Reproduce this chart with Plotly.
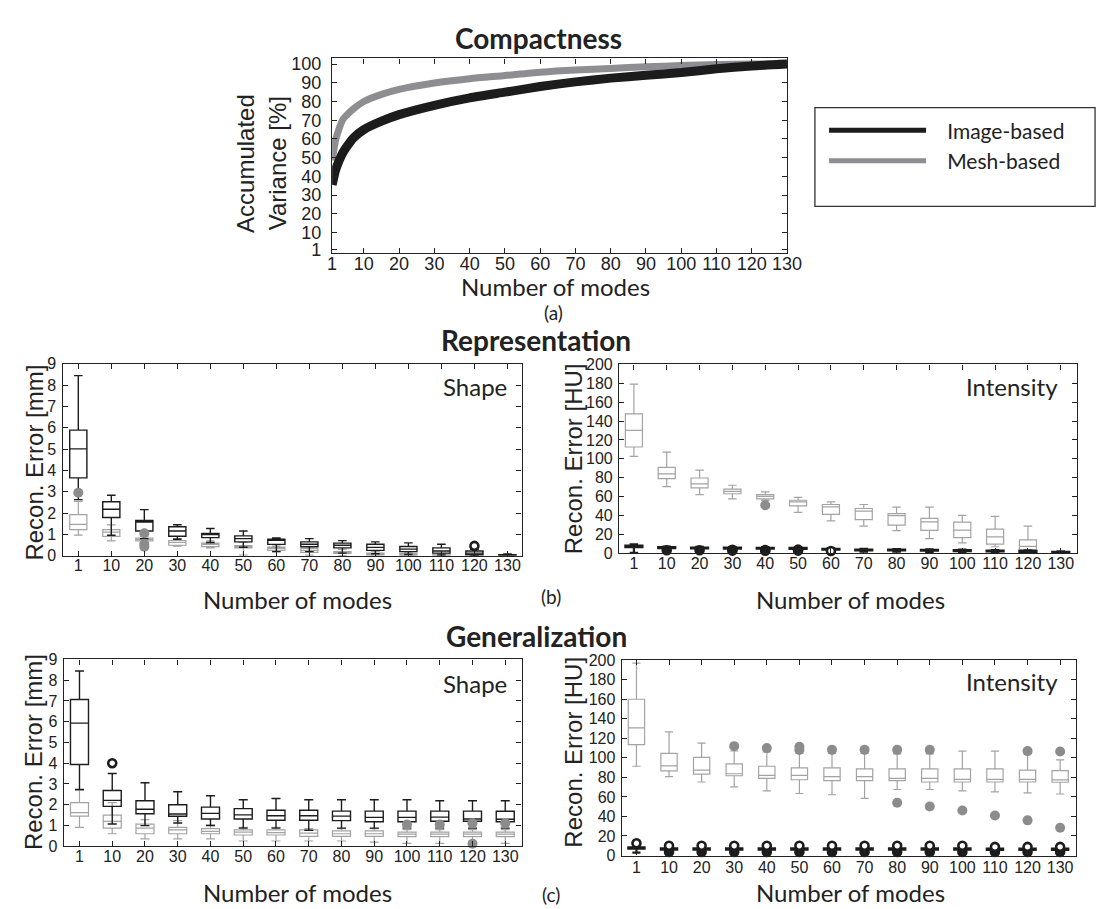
import plotly.graph_objects as go

# ---------------- data ----------------
modes_curve = [1, 2, 3, 4, 5, 7, 10, 15, 20, 30, 40, 50, 60, 70, 80, 90, 100, 110, 120, 130]
image_var = [35.5, 43.5, 48.5, 52.5, 55.5, 60.5, 65, 69.5, 73, 78, 82, 85, 88, 90.5, 92.5, 94, 95.5, 97.5, 99, 100]
mesh_var = [48.5, 59.5, 65.6, 70.3, 72.5, 76, 80, 83.8, 86.5, 89.9, 92.2, 93.9, 95.7, 96.9, 97.7, 98.6, 99.2, 99.8, 100, 100]
series_names = ["Image-based", "Mesh-based"]

categories = ["1", "10", "20", "30", "40", "50", "60", "70", "80", "90", "100", "110", "120", "130"]
top_ticks = [1, 10, 20, 30, 40, 50, 60, 70, 80, 90, 100, 110, 120, 130]
var_ticks = [1, 10, 20, 30, 40, 50, 60, 70, 80, 90, 100]

# Representation - Shape
rs_img_hi = [8.45, 2.84, 2.16, 1.45, 1.28, 1.16, 0.83, 0.80, 0.71, 0.65, 0.60, 0.54, 0.30, 0.08]
rs_img_q3 = [5.89, 2.53, 1.65, 1.36, 1.04, 0.93, 0.77, 0.65, 0.59, 0.54, 0.43, 0.37, 0.22, 0.05]
rs_img_md = [5.01, 2.18, 1.58, 1.16, 0.99, 0.80, 0.73, 0.54, 0.49, 0.39, 0.31, 0.22, 0.12, 0.03]
rs_img_q1 = [3.65, 1.79, 1.16, 0.91, 0.85, 0.65, 0.53, 0.42, 0.37, 0.25, 0.19, 0.12, 0.05, 0.01]
rs_img_lo = [2.63, 0.96, 0.80, 0.77, 0.62, 0.40, 0.19, 0.19, 0.12, 0.09, 0.06, 0.03, 0.00, 0.00]
rs_img_out_cat = ["120"]
rs_img_out_val = [0.46]
rs_msh_hi = [2.55, 1.45, 0.92, 0.80, 0.70, 0.62, 0.45, 0.42, 0.30, 0.20, 0.15, 0.10, 0.05, -0.02]
rs_msh_q3 = [1.93, 1.22, 0.83, 0.71, 0.59, 0.48, 0.40, 0.34, 0.19, 0.12, 0.11, 0.08, 0.03, -0.05]
rs_msh_md = [1.47, 1.11, 0.77, 0.62, 0.53, 0.43, 0.34, 0.25, 0.14, 0.08, 0.06, 0.02, -0.03, -0.08]
rs_msh_q1 = [1.22, 0.91, 0.70, 0.49, 0.43, 0.37, 0.25, 0.16, 0.11, 0.03, 0.00, -0.03, -0.09, -0.12]
rs_msh_lo = [0.97, 0.70, 0.62, 0.45, 0.37, 0.03, 0.19, 0.03, 0.00, 0.00, -0.06, -0.09, -0.15, -0.15]
rs_msh_out_cat = ["1", "20", "20", "20", "120", "130"]
rs_msh_out_val = [2.95, 1.05, 0.55, 0.42, -0.22, -0.22]

# Representation - Intensity
ri_img_hi = [9.5, 7.0, 6.8, 6.5, 6.3, 6.2, 5.2, 4.6, 4.4, 4.2, 3.8, 3.4, 3.0, 2.0]
ri_img_q3 = [8.0, 6.4, 6.1, 5.9, 5.8, 5.6, 4.8, 4.0, 3.9, 3.7, 3.3, 2.9, 2.5, 1.5]
ri_img_md = [7.2, 5.9, 5.6, 5.4, 5.3, 5.1, 4.2, 3.6, 3.4, 3.2, 2.8, 2.4, 2.0, 1.2]
ri_img_q1 = [6.4, 5.3, 5.1, 4.9, 4.8, 4.6, 3.7, 3.1, 2.9, 2.7, 2.3, 1.9, 1.5, 0.8]
ri_img_lo = [0.5, 4.2, 4.0, 3.8, 3.7, 3.4, 2.6, 1.8, 1.6, 1.4, 1.2, 0.9, 0.6, 0.3]
# clustered outliers (overlapping circles that read as solid blobs)
ri_img_dense_cat = ["10", "20", "30", "30", "40", "40", "50", "50"]
ri_img_dense_val = [3.2, 3.2, 2.8, 3.6, 2.6, 3.4, 2.8, 3.8]
ri_img_out_cat = ["60"]
ri_img_out_val = [2.4]
ri_msh_hi = [179, 107, 88, 72, 65, 59.2, 54.4, 51.6, 48.8, 48.8, 40.2, 39.1, 28.7, 0.5]
ri_msh_q3 = [147.5, 91, 79.7, 67.9, 62, 56.1, 51.6, 47.4, 41.9, 37, 32.9, 25.6, 14.2, 0]
ri_msh_md = [130, 84, 73.4, 65.5, 60.3, 54.4, 49.2, 44.7, 39.8, 33.2, 24.6, 17.3, 7.3, -0.5]
ri_msh_q1 = [112.5, 79, 69.3, 63, 57.5, 50.2, 41.2, 35.7, 29.8, 24.2, 16.6, 9.7, 3.8, -1]
ri_msh_lo = [102.5, 70.6, 62, 57.5, 56, 43.3, 34.3, 28.7, 23.9, 15.6, 11.1, 6.9, 1.4, -3]
ri_msh_out_cat = ["40", "130"]
ri_msh_out_val = [50.9, -5]

# Generalization - Shape
gs_img_hi = [8.44, 3.50, 3.06, 2.62, 2.43, 2.24, 2.30, 2.24, 2.24, 2.24, 2.24, 2.19, 2.19, 2.19]
gs_img_q3 = [7.07, 2.68, 2.19, 2.00, 1.88, 1.81, 1.73, 1.73, 1.69, 1.69, 1.69, 1.69, 1.69, 1.68]
gs_img_md = [5.93, 2.21, 1.78, 1.55, 1.58, 1.51, 1.47, 1.47, 1.45, 1.39, 1.39, 1.40, 1.31, 1.30]
gs_img_q1 = [3.94, 1.92, 1.56, 1.44, 1.31, 1.31, 1.25, 1.25, 1.23, 1.18, 1.18, 1.20, 1.20, 1.18]
gs_img_lo = [2.73, 1.07, 0.99, 1.12, 0.99, 0.87, 0.87, 0.76, 0.87, 0.87, 0.87, 0.87, 0.87, 0.87]
gs_img_out_cat = ["10"]
gs_img_out_val = [4.0]
gs_msh_hi = [2.70, 2.10, 1.28, 1.23, 1.04, 0.91, 0.91, 0.85, 0.85, 0.85, 0.80, 0.80, 0.80, 0.80]
gs_msh_q3 = [2.10, 1.50, 1.06, 0.91, 0.85, 0.79, 0.79, 0.79, 0.74, 0.74, 0.68, 0.68, 0.68, 0.68]
gs_msh_md = [1.62, 1.20, 0.87, 0.79, 0.71, 0.68, 0.65, 0.63, 0.60, 0.60, 0.58, 0.58, 0.58, 0.58]
gs_msh_q1 = [1.45, 0.87, 0.60, 0.60, 0.60, 0.54, 0.54, 0.47, 0.47, 0.47, 0.46, 0.46, 0.46, 0.46]
gs_msh_lo = [0.91, 0.60, 0.35, 0.35, 0.35, 0.25, 0.25, 0.25, 0.25, 0.20, 0.14, 0.14, 0.14, 0.14]
gs_msh_out_cat = ["100", "110", "120", "120", "130"]
gs_msh_out_val = [1.04, 1.04, 1.10, 0.12, 1.10]

# Generalization - Intensity
gi_img_hi = [9.0, 8.0, 8.0, 8.0, 8.0, 8.0, 8.0, 8.0, 8.0, 8.0, 8.0, 8.0, 8.0, 8.0]
gi_img_q3 = [8.3, 7.2, 7.2, 7.2, 7.2, 7.2, 7.2, 7.2, 7.2, 7.2, 7.2, 7.0, 7.0, 7.0]
gi_img_md = [7.6, 6.6, 6.6, 6.6, 6.6, 6.6, 6.6, 6.6, 6.6, 6.6, 6.6, 6.4, 6.4, 6.4]
gi_img_q1 = [7.0, 6.0, 6.0, 6.0, 6.0, 6.0, 6.0, 6.0, 6.0, 6.0, 6.0, 5.8, 5.8, 5.8]
gi_img_lo = [3.0, 5.0, 5.0, 5.0, 5.0, 5.0, 5.0, 5.0, 5.0, 5.0, 5.0, 4.8, 4.8, 4.8]
gi_img_out_cat = ["1", "10", "20", "30", "40", "50", "60", "70", "80", "90", "100", "110", "120", "130"]
gi_img_out_val = [12.5, 10, 10, 10, 10, 10, 10, 10, 10, 10, 10, 8.8, 8.8, 8.8]
gi_img_dense_cat = ["10", "20", "30", "40", "50", "60", "70", "80", "90", "100", "110", "120", "130"]
gi_img_dense_val = [3.6, 3.6, 3.6, 3.6, 3.6, 3.6, 3.6, 3.6, 3.6, 3.6, 3.6, 3.6, 3.6]
gi_msh_hi = [197, 126.7, 115, 107, 106, 104.5, 104.5, 104.5, 104, 104, 106.9, 106.9, 104.5, 98]
gi_msh_q3 = [160, 104.5, 100.5, 93.8, 91.4, 89.7, 89.7, 88.7, 88.7, 88.7, 88.7, 88.7, 87.4, 87]
gi_msh_md = [130.8, 91.8, 87.4, 83.7, 82, 82, 80.7, 80.7, 79, 79, 78, 78, 78, 77.5]
gi_msh_q1 = [113.6, 86.7, 83.4, 81.7, 79, 77.6, 76.6, 76.6, 76.6, 75.3, 75.3, 75.3, 75.3, 75]
gi_msh_lo = [91.4, 80.7, 75.3, 70.3, 66.2, 63.5, 62.2, 58.5, 67.6, 67.6, 66.2, 65.2, 64.2, 63]
gi_msh_out_cat = ["30", "40", "50", "50", "60", "70", "80", "80", "90", "90", "100", "110", "120", "120", "130", "130"]
gi_msh_out_val = [112, 110, 111.3, 108, 108.2, 108.2, 108.2, 54.1, 108.2, 50.1, 46, 41, 106.9, 36, 106.5, 28.5]

# ---------------- style ----------------
W, H = 1105, 909
BLACK = "#1c1c1c"
GRAY_LINE = "#8e8e92"
GRAY_BOX = "#a3a3a3"
GRAY_DOT = "#8c8c8c"
TEXT = "#222222"
TICKFONT = "Liberation Sans"
LABELFONT = "Lato"


def dom_x(a, b):
    return [a / W, b / W]


def dom_y(top, bottom):
    return [1 - bottom / H, 1 - top / H]


idx = list(range(len(categories)))

fig = go.Figure()

# ---- Compactness curves (drawn) ----
fig.add_trace(go.Scatter(x=modes_curve, y=mesh_var, mode="lines", name=series_names[1],
                         line=dict(color=GRAY_LINE, width=7, shape="spline", smoothing=0.6),
                         xaxis="x", yaxis="y", showlegend=False, hoverinfo="skip"))
fig.add_trace(go.Scatter(x=modes_curve, y=image_var, mode="lines", name=series_names[0],
                         line=dict(color=BLACK, width=9, shape="spline", smoothing=0.6),
                         xaxis="x", yaxis="y", showlegend=False, hoverinfo="skip"))
# legend keys (thinner, as in the reference legend)
nbsp = "\u00a0\u00a0\u00a0"
fig.add_trace(go.Scatter(x=[None], y=[None], mode="lines", name=nbsp + series_names[0],
                         line=dict(color=BLACK, width=5), xaxis="x", yaxis="y", legendrank=1))
fig.add_trace(go.Scatter(x=[None], y=[None], mode="lines", name=nbsp + series_names[1],
                         line=dict(color=GRAY_LINE, width=5), xaxis="x", yaxis="y", legendrank=2))


def add_boxes(ax, q1, md, q3, lo, hi, color, width, lw=1.4):
    fig.add_trace(go.Box(x=idx, q1=q1, median=md, q3=q3, lowerfence=lo, upperfence=hi,
                         xaxis="x" + ax, yaxis="y" + ax, line=dict(color=color, width=lw),
                         fillcolor="rgba(0,0,0,0)", width=width, whiskerwidth=0.5,
                         boxpoints=False, showlegend=False, hoverinfo="skip"))


def add_out_gray(ax, cats, vals):
    fig.add_trace(go.Scatter(x=[categories.index(c) for c in cats], y=vals, mode="markers",
                             marker=dict(color=GRAY_DOT, size=10, line=dict(width=0)),
                             xaxis="x" + ax, yaxis="y" + ax, showlegend=False, cliponaxis=False,
                             hoverinfo="skip"))


def add_out_black(ax, cats, vals, filled=False):
    fig.add_trace(go.Scatter(x=[categories.index(c) for c in cats], y=vals, mode="markers",
                             marker=dict(color=BLACK if filled else "white", size=8,
                                         line=dict(width=2.6, color=BLACK)),
                             xaxis="x" + ax, yaxis="y" + ax, showlegend=False, cliponaxis=False,
                             hoverinfo="skip"))


# Representation shape (axis 2)
add_boxes("2", rs_msh_q1, rs_msh_md, rs_msh_q3, rs_msh_lo, rs_msh_hi, GRAY_BOX, 0.52, 1.2)
add_boxes("2", rs_img_q1, rs_img_md, rs_img_q3, rs_img_lo, rs_img_hi, BLACK, 0.52)
add_out_gray("2", rs_msh_out_cat, rs_msh_out_val)
add_out_black("2", rs_img_out_cat, rs_img_out_val)
# Representation intensity (axis 3)
add_boxes("3", ri_msh_q1, ri_msh_md, ri_msh_q3, ri_msh_lo, ri_msh_hi, GRAY_BOX, 0.52, 1.2)
add_boxes("3", ri_img_q1, ri_img_md, ri_img_q3, ri_img_lo, ri_img_hi, BLACK, 0.52, 2.2)
add_out_gray("3", ri_msh_out_cat, ri_msh_out_val)
add_out_black("3", ri_img_dense_cat, ri_img_dense_val, filled=True)
add_out_black("3", ri_img_out_cat, ri_img_out_val)
# Generalization shape (axis 4)
add_boxes("4", gs_msh_q1, gs_msh_md, gs_msh_q3, gs_msh_lo, gs_msh_hi, GRAY_BOX, 0.55, 1.2)
add_boxes("4", gs_img_q1, gs_img_md, gs_img_q3, gs_img_lo, gs_img_hi, BLACK, 0.55)
add_out_gray("4", gs_msh_out_cat, gs_msh_out_val)
add_out_black("4", gs_img_out_cat, gs_img_out_val)
# Generalization intensity (axis 5)
add_boxes("5", gi_msh_q1, gi_msh_md, gi_msh_q3, gi_msh_lo, gi_msh_hi, GRAY_BOX, 0.5, 1.2)
add_boxes("5", gi_img_q1, gi_img_md, gi_img_q3, gi_img_lo, gi_img_hi, BLACK, 0.5, 2.2)
add_out_gray("5", gi_msh_out_cat, gi_msh_out_val)
add_out_black("5", gi_img_dense_cat, gi_img_dense_val, filled=True)
add_out_black("5", gi_img_out_cat, gi_img_out_val)


def axis(domain, rng, anchor, size=16, standoff=0, **kw):
    d = dict(domain=domain, range=rng, anchor=anchor, showline=True, linecolor=TEXT, linewidth=1.3,
             mirror="ticks", ticks="inside", ticklen=5, tickwidth=1, tickcolor=TEXT,
             showgrid=False, zeroline=False, fixedrange=True, ticklabelstandoff=standoff,
             tickfont=dict(family=TICKFONT, size=size, color=TEXT))
    d.update(kw)
    return d


layout = dict(
    width=W, height=H, margin=dict(l=0, r=0, t=0, b=0),
    paper_bgcolor="white", plot_bgcolor="white", boxmode="overlay",
    showlegend=True,
    legend=dict(x=826 / W, y=1 - 96 / H, xanchor="left", yanchor="top", bgcolor="rgba(0,0,0,0)",
                borderwidth=0, itemwidth=97, font=dict(family=LABELFONT, size=21, color=TEXT),
                tracegroupgap=0),
    xaxis=axis(dom_x(325, 788.3), [1, 130], "y", size=18, standoff=-6, tickvals=top_ticks),
    yaxis=axis(dom_y(43.3, 241.3), [-0.8, 103], "x", size=18, standoff=6, tickvals=var_ticks),
    xaxis2=axis(dom_x(50.5, 518), [-0.476, 13.43], "y2", standoff=-5, tickvals=idx, ticktext=categories),
    yaxis2=axis(dom_y(354.5, 550), [0, 9], "x2", standoff=2, dtick=1),
    xaxis3=axis(dom_x(617.3, 1083.8), [-0.45, 13.5], "y3", standoff=-5, tickvals=idx, ticktext=categories),
    yaxis3=axis(dom_y(355, 547.5), [0, 200], "x3", standoff=2, dtick=20),
    xaxis4=axis(dom_x(51.7, 518), [-0.48, 13.5], "y4", standoff=-5, tickvals=idx, ticktext=categories),
    yaxis4=axis(dom_y(655.7, 846), [0, 9], "x4", standoff=2, dtick=1),
    xaxis5=axis(dom_x(620, 1082.7), [-0.45, 13.49], "y5", standoff=-3, tickvals=idx, ticktext=categories),
    yaxis5=axis(dom_y(656, 855.5), [0, 200.5], "x5", standoff=2, dtick=20),
)
fig.update_layout(**layout)


def ann(text, x, y, size, family=LABELFONT, bold=False, angle=0, xanchor="center"):
    fig.add_annotation(text=("<b>%s</b>" % text) if bold else text, x=x / W, y=1 - y / H,
                       xref="paper", yref="paper", showarrow=False, textangle=angle,
                       xanchor=xanchor, yanchor="middle",
                       font=dict(family=family, size=size, color=TEXT))


# titles
ann("Compactness", 535, 22, 28, bold=True)
ann("Representation", 533, 330, 28, bold=True)
ann("Generalization", 533, 632, 28, bold=True)
# sub-figure letters
ann("(a)", 550, 302, 19)
ann("(b)", 548, 592, 19)
ann("(c)", 548, 895, 19)
# x axis titles
ann("Number of modes", 552, 276, 24)
ann("Number of modes", 290, 595, 24)
ann("Number of modes", 853, 595, 24)
ann("Number of modes", 290, 893, 24)
ann("Number of modes", 853, 893, 24)
# y axis titles
ann("Accumulated", 236, 150, 24, family=TICKFONT, angle=-90)
ann("Variance [%]", 269, 150, 24, family=TICKFONT, angle=-90)
ann("Recon. Error [mm]", 21.5, 455, 24, family=TICKFONT, angle=-90)
ann("Recon. Error [HU]", 571, 451, 24, family=TICKFONT, angle=-90)
ann("Recon. Error [mm]", 21.5, 750, 24, family=TICKFONT, angle=-90)
ann("Recon. Error [HU]", 571, 750, 24, family=TICKFONT, angle=-90)
# panel labels
ann("Shape", 505, 378, 24, xanchor="right")
ann("Intensity", 1066, 378, 24, xanchor="right")
ann("Shape", 505, 680, 24, xanchor="right")
ann("Intensity", 1066, 678, 24, xanchor="right")

# legend frame
fig.add_shape(type="rect", xref="paper", yref="paper", x0=816.7 / W, x1=1102 / W,
              y0=1 - 194 / H, y1=1 - 93.3 / H, line=dict(color="#333333", width=1.3))

fig.write_html("out.html")
